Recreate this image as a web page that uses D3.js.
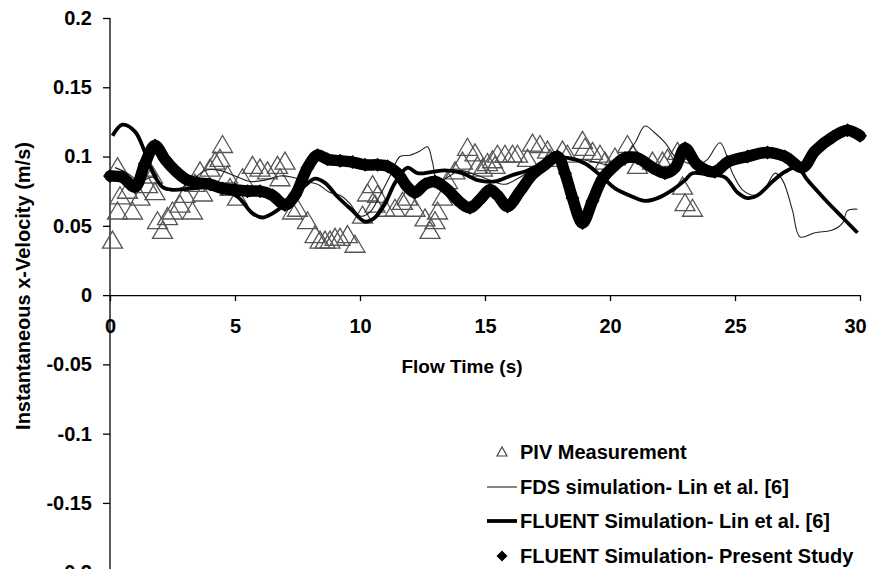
<!DOCTYPE html>
<html>
<head>
<meta charset="utf-8">
<script src="https://cdn.jsdelivr.net/npm/d3@7"></script>
<style>
  html, body { margin: 0; padding: 0; background: #fff; }
  svg { display: block; }
  text { font-family: "Liberation Sans", Arial, sans-serif; font-weight: bold; fill: #000; }
</style>
</head>
<body>
<svg id="chart" width="870" height="569"></svg>
<script>
// Axis ticks
const xTicks = [0, 5, 10, 15, 20, 25, 30];
const yTicks = [0.2, 0.15, 0.1, 0.05, 0, -0.05, -0.1, -0.15, -0.2];
const yTickLabels = ["0.2", "0.15", "0.1", "0.05", "0", "-0.05", "-0.1", "-0.15", "-0.2"];

// PIV measurement (time s, x-velocity m/s)
const pivTime = [0.1, 0.3, 0.3, 0.4, 0.7, 0.9, 1.2, 1.5, 1.5, 1.7, 1.8, 1.9, 2.1, 2.3, 2.5, 2.8,
  3.0, 3.3, 3.4, 3.6, 3.7, 4.0, 4.2, 4.4, 4.5, 4.7, 4.8, 5.1, 5.3, 5.7, 6.0, 6.3, 6.7, 6.8, 7.0,
  7.3, 7.5, 7.9, 8.2, 8.4, 8.6, 8.8, 9.0, 9.2, 9.5, 9.8, 10.1, 10.3, 10.5, 10.6, 10.7, 11.0,
  11.4, 11.7, 11.9, 12.2, 12.6, 12.8, 13.0, 13.1, 13.3, 13.5, 13.8, 14.1, 14.3, 14.6, 14.7,
  14.9, 15.1, 15.3, 15.4, 15.5, 15.8, 16.1, 16.3, 16.7, 16.9, 17.2, 17.5, 17.6, 18.1, 18.3,
  18.9, 19.0, 19.3, 19.6, 19.8, 20.2, 20.7, 20.9, 21.1, 21.7, 22.1, 22.3, 22.7, 22.9, 23.0, 23.3];
const pivVel = [0.038, 0.059, 0.091, 0.070, 0.074, 0.059, 0.069, 0.078, 0.090, 0.085, 0.073, 0.052,
  0.045, 0.055, 0.059, 0.064, 0.071, 0.059, 0.079, 0.088, 0.072, 0.090, 0.095, 0.097, 0.107,
  0.085, 0.076, 0.069, 0.083, 0.092, 0.090, 0.088, 0.092, 0.083, 0.095, 0.059, 0.061, 0.052,
  0.042, 0.038, 0.038, 0.038, 0.040, 0.040, 0.042, 0.035, 0.056, 0.072, 0.078, 0.064, 0.071,
  0.061, 0.061, 0.066, 0.069, 0.061, 0.054, 0.045, 0.052, 0.059, 0.069, 0.081, 0.088, 0.095,
  0.105, 0.101, 0.092, 0.090, 0.094, 0.096, 0.092, 0.100, 0.100, 0.100, 0.100, 0.097, 0.108,
  0.107, 0.103, 0.097, 0.103, 0.100, 0.110, 0.105, 0.102, 0.100, 0.095, 0.098, 0.107, 0.100,
  0.092, 0.095, 0.095, 0.097, 0.102, 0.077, 0.065, 0.061];

// FDS simulation, Lin et al. [6]
const fdsTime = [0.2, 0.7, 1.2, 1.7, 2.2, 2.8, 3.3, 3.8, 4.4, 5.0, 5.6, 6.2, 6.8, 7.3, 7.8, 8.3,
  8.8, 9.2, 9.6, 10.0, 10.4, 10.8, 11.2, 11.6, 12.0, 12.4, 12.7, 12.9, 13.1, 13.5, 14.0, 14.6,
  15.2, 15.8, 16.4, 17.0, 17.6, 18.2, 18.8, 19.4, 20.0, 20.5, 21.0, 21.4, 21.8, 22.2, 22.6,
  23.0, 23.5, 23.9, 24.4, 24.9, 25.3, 25.8, 26.2, 26.6, 26.9, 27.3, 27.6, 28.2, 28.9, 29.3,
  29.5, 29.9];
const fdsVel = [0.092, 0.088, 0.082, 0.085, 0.076, 0.077, 0.083, 0.090, 0.090, 0.086, 0.082, 0.083,
  0.086, 0.085, 0.082, 0.080, 0.074, 0.072, 0.066, 0.057, 0.060, 0.072, 0.086, 0.100, 0.101,
  0.104, 0.107, 0.096, 0.082, 0.085, 0.090, 0.087, 0.083, 0.080, 0.085, 0.092, 0.097, 0.099,
  0.098, 0.096, 0.094, 0.098, 0.110, 0.122, 0.117, 0.110, 0.100, 0.096, 0.094, 0.098, 0.110,
  0.088, 0.076, 0.072, 0.077, 0.088, 0.083, 0.061, 0.042, 0.045, 0.047, 0.052, 0.061, 0.062];

// FLUENT simulation, Lin et al. [6]
const linTime = [0.1, 0.5, 1.0, 1.4, 1.7, 2.1, 2.5, 3.3, 4.2, 5.1, 5.7, 6.1, 6.5, 6.9, 7.3, 7.8,
  8.2, 8.6, 9.1, 9.7, 10.2, 10.6, 11.0, 11.4, 11.9, 12.3, 12.9, 13.4, 14.1, 14.7, 15.4, 16.0,
  16.7, 17.3, 17.7, 18.3, 19.0, 19.7, 20.2, 20.9, 21.4, 21.9, 22.5, 23.0, 23.3, 23.9, 24.6,
  25.1, 25.5, 25.9, 26.5, 27.0, 27.5, 27.9, 28.6, 29.3, 29.9];
const linVel = [0.115, 0.123, 0.118, 0.103, 0.089, 0.078, 0.076, 0.077, 0.078, 0.071, 0.059, 0.056,
  0.059, 0.064, 0.070, 0.079, 0.084, 0.081, 0.071, 0.061, 0.053, 0.056, 0.066, 0.081, 0.092,
  0.088, 0.089, 0.090, 0.088, 0.083, 0.082, 0.086, 0.090, 0.095, 0.099, 0.099, 0.095, 0.085,
  0.077, 0.071, 0.068, 0.070, 0.076, 0.083, 0.088, 0.087, 0.085, 0.074, 0.070, 0.072, 0.082,
  0.089, 0.092, 0.083, 0.069, 0.056, 0.045];

// FLUENT simulation, present study
const presentTime = [0.0, 0.5, 1.0, 1.4, 1.8, 2.2, 2.6, 3.0, 3.5, 4.0, 4.5, 5.0, 5.5, 6.0, 6.5, 7.0,
  7.4, 7.9, 8.3, 8.7, 9.2, 9.7, 10.2, 10.7, 11.1, 11.5, 11.9, 12.2, 12.6, 13.0, 13.5, 14.0,
  14.4, 14.8, 15.2, 15.5, 15.9, 16.4, 16.9, 17.4, 17.9, 18.2, 18.5, 18.9, 19.3, 19.7, 20.1,
  20.6, 21.1, 21.7, 22.2, 22.6, 23.0, 23.5, 24.2, 24.7, 25.5, 26.3, 27.0, 27.7, 28.2, 28.9,
  29.5, 30.0];
const presentVel = [0.086, 0.085, 0.078, 0.095, 0.108, 0.098, 0.090, 0.084, 0.081, 0.080, 0.077,
  0.076, 0.075, 0.075, 0.072, 0.065, 0.072, 0.092, 0.101, 0.098, 0.097, 0.096, 0.094, 0.094,
  0.093, 0.088, 0.078, 0.074, 0.080, 0.082, 0.076, 0.067, 0.063, 0.069, 0.076, 0.072, 0.064,
  0.075, 0.087, 0.094, 0.100, 0.088, 0.070, 0.052, 0.068, 0.084, 0.092, 0.099, 0.099, 0.092,
  0.088, 0.092, 0.106, 0.094, 0.089, 0.096, 0.100, 0.103, 0.100, 0.092, 0.104, 0.114, 0.119,
  0.115];

const legendLabels = ["PIV Measurement", "FDS simulation- Lin et al. [6]",
  "FLUENT Simulation- Lin et al. [6]", "FLUENT Simulation- Present Study"];

const svg = d3.select("#chart");
const x = d3.scaleLinear().domain([0, 30]).range([110, 860]);
const y = d3.scaleLinear().domain([-0.2, 0.2]).range([572.2, 18]);

const zip = (ts, vs) => ts.map((t, i) => [t, vs[i]]);
const triPath = (w, h) => `M0,${-h * 2 / 3}L${w / 2},${h / 3}L${-w / 2},${h / 3}Z`;
const diaPath = (r) => `M0,${-r}L${r},0L0,${r}L${-r},0Z`;

// Axes
const yAxis = d3.axisLeft(y).tickValues(yTicks).tickSize(7).tickSizeOuter(0).tickPadding(11)
  .tickFormat((d, i) => yTickLabels[i]);
const gy = svg.append("g").attr("transform", "translate(110,0)").call(yAxis);
gy.select(".domain").attr("d", `M0,${y(0.2)}V${y(-0.2) + 10}`);

const xAxis = d3.axisBottom(x).tickValues(xTicks).tickSize(6).tickSizeOuter(0).tickPadding(18)
  .tickFormat(d3.format("d"));
const gx = svg.append("g").attr("transform", `translate(0,${y(0)})`).call(xAxis);

[gx, gy].forEach(g => {
  g.select(".domain").attr("stroke", "#000").attr("stroke-width", 1.3);
  g.selectAll(".tick line").attr("stroke", "#000").attr("stroke-width", 1.3);
  g.selectAll(".tick text").attr("font-size", 20).attr("font-family", "'Liberation Sans', Arial, sans-serif")
    .attr("font-weight", "bold").attr("fill", "#000");
});
// keep the last x label inside the frame
gx.selectAll(".tick text").filter(d => d === 30).attr("dx", -5);

// PIV triangles
svg.append("g").selectAll("path").data(zip(pivTime, pivVel)).join("path")
  .attr("transform", d => `translate(${x(d[0])},${y(d[1])})`)
  .attr("d", triPath(20, 17))
  .attr("fill", "none").attr("stroke", "#555").attr("stroke-width", 1.3);

const line = d3.line().x(d => x(d[0])).y(d => y(d[1])).curve(d3.curveCatmullRom.alpha(0.5));

// FDS thin line
svg.append("path").datum(zip(fdsTime, fdsVel)).attr("d", line)
  .attr("fill", "none").attr("stroke", "#222").attr("stroke-width", 1.1);

// FLUENT Lin et al. thick line
svg.append("path").datum(zip(linTime, linVel)).attr("d", line)
  .attr("fill", "none").attr("stroke", "#000").attr("stroke-width", 3.8)
  .attr("stroke-linejoin", "round");

// FLUENT present study: dense diamond markers on a heavy band
const present = zip(presentTime, presentVel);
svg.append("path").datum(present).attr("d", line)
  .attr("fill", "none").attr("stroke", "#000").attr("stroke-width", 11.5)
  .attr("stroke-linejoin", "round").attr("stroke-linecap", "round");
svg.append("g").selectAll("path").data(present).join("path")
  .attr("transform", d => `translate(${x(d[0])},${y(d[1])})`)
  .attr("d", diaPath(7)).attr("fill", "#000");

// Axis titles
svg.append("text").attr("x", 462).attr("y", 373).attr("text-anchor", "middle")
  .attr("font-size", 19).text("Flow Time (s)");
svg.append("text").attr("transform", "translate(30,286) rotate(-90)").attr("text-anchor", "middle")
  .attr("font-size", 20).text("Instantaneous x-Velocity (m/s)");

// Legend
const legendY = [452, 487, 521, 556];
const lg = svg.append("g");
lg.append("path").attr("transform", `translate(502,${legendY[0] + 1})`).attr("d", triPath(10, 9))
  .attr("fill", "none").attr("stroke", "#444").attr("stroke-width", 1.2);
lg.append("line").attr("x1", 487).attr("x2", 517).attr("y1", legendY[1]).attr("y2", legendY[1])
  .attr("stroke", "#222").attr("stroke-width", 1.1);
lg.append("line").attr("x1", 487).attr("x2", 517).attr("y1", legendY[2]).attr("y2", legendY[2])
  .attr("stroke", "#000").attr("stroke-width", 3.8);
lg.append("path").attr("transform", `translate(502,${legendY[3]})`).attr("d", diaPath(5.5)).attr("fill", "#000");
lg.selectAll("text").data(legendLabels).join("text")
  .attr("x", 520).attr("y", (d, i) => legendY[i] + 7).attr("font-size", 20).text(d => d);
</script>
</body>
</html>
